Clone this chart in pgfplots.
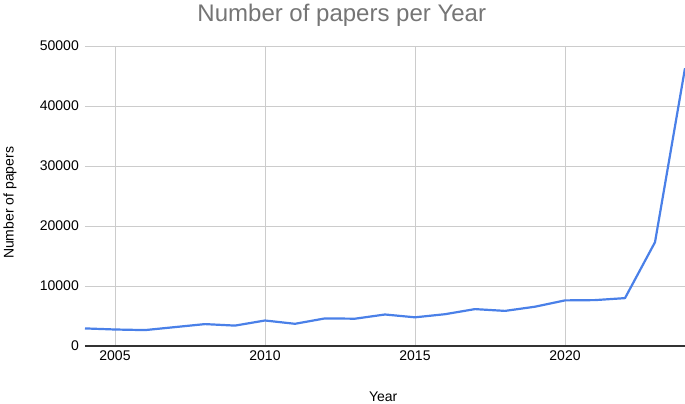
\documentclass[border=0pt]{standalone}
\usepackage{fontspec}
\setmainfont{Liberation Sans}
\usepackage{pgfplots}
\pgfplotsset{compat=1.18}

\definecolor{lineblue}{RGB}{74,128,232}
\definecolor{gridgray}{RGB}{204,204,204}
\definecolor{titlegray}{RGB}{117,117,117}

\begin{document}
\begin{tikzpicture}
\begin{axis}[
    scale only axis,
    width=600pt, height=300pt,
    xmin=2004, xmax=2024,
    ymin=0, ymax=50000,
    xtick={2005,2010,2015,2020},
    ytick={0,10000,20000,30000,40000,50000},
    major tick length=0pt,
    /pgf/number format/assume math mode=true,
    /pgf/number format/set thousands separator={},
    scaled y ticks=false,
    grid=major,
    major grid style={gridgray, line width=1pt},
    axis x line*=bottom,
    axis y line*=left,
    x axis line style={draw=black!80, line width=1.2pt, -},
    y axis line style={draw=none},
    tick label style={font=\fontsize{14}{16}\selectfont, black},
    yticklabel style={inner sep=0pt, anchor=east, xshift=-6pt},
    xticklabel style={inner sep=0pt, anchor=north, yshift=-5pt},
    xlabel={Year},
    ylabel={Number of papers},
    label style={font=\fontsize{14}{16}\selectfont},
    xlabel style={at={(axis description cs:0.497,0)}, anchor=center, yshift=-51pt, inner sep=0pt},
    ylabel style={at={(axis description cs:-0.125,0.477)}, anchor=center, inner sep=0pt},
    title={Number of papers per Year},
    every axis title shift=0pt,
    title style={at={(axis description cs:0.428,1)}, anchor=base, yshift=25pt, inner sep=0pt,
                 font=\fontsize{24}{28}\selectfont, text=titlegray},
    clip=false,
]
\addplot[lineblue, line width=2.2pt, line join=round] coordinates {
    (2004,2930) (2005,2750) (2006,2650) (2007,3150) (2008,3650)
    (2009,3400) (2010,4250) (2011,3700) (2012,4600) (2013,4550)
    (2014,5250) (2015,4780) (2016,5300) (2017,6150) (2018,5850)
    (2019,6550) (2020,7600) (2021,7650) (2022,7980) (2023,17300)
    (2024,46300)
};
\end{axis}
\pgfresetboundingbox
\path[use as bounding box] (-85pt,-58pt) rectangle (600pt,346pt);
\end{tikzpicture}
\end{document}
